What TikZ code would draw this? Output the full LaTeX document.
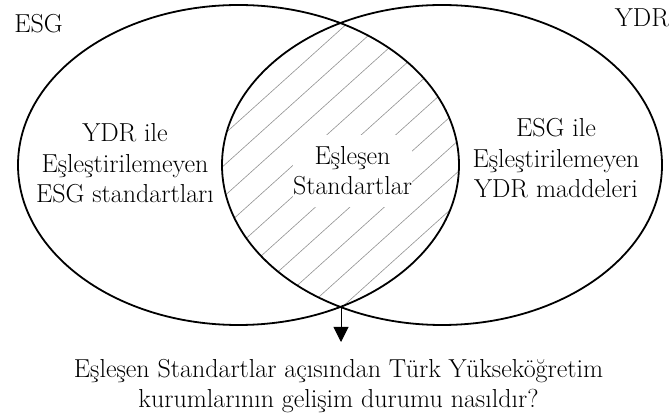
\documentclass[tikz,border=0pt]{standalone}
\usepackage{fontspec}
\usetikzlibrary{arrows.meta}
\begin{document}
\begin{tikzpicture}[x=1pt,y=-1pt,
  venn/.style={line width=1.8pt},
  hatchline/.style={gray!85, line width=0.6pt},
  lbl/.style={font=\fontsize{26}{30.5}\selectfont, inner sep=0pt, align=center, anchor=base},
  conn/.style={line width=1pt, -{Triangle[width=15pt,length=15pt]}}]
\useasboundingbox (0,0) rectangle (672,419);
\begin{scope}
  \clip (238.5,165) ellipse [x radius=220.5pt, y radius=160pt];
  \clip (442,165) ellipse [x radius=220pt, y radius=160pt];
  \foreach \k in {-11,...,6} {
    \draw[hatchline] (200,{522+31*\k-180}) -- (480,{522+31*\k-432});
  }
\end{scope}
\draw[venn] (238.5,165) ellipse [x radius=220.5pt, y radius=160pt];
\draw[venn] (442,165) ellipse [x radius=220pt, y radius=160pt];
\node[lbl, fill=white, minimum height=72pt] (match) at (352.5,195) {Eşleşen\\Standartlar};
\node[lbl] (leftonly) at (125,203) {YDR ile\\Eşleştirilemeyen\\ESG standartları};
\node[lbl] (rightonly) at (556,198) {ESG ile\\Eşleştirilemeyen\\YDR maddeleri};
\node[lbl] (esg) at (38.5,33) {ESG};
\node[lbl] (ydr) at (642,27) {YDR};
\node[lbl] (question) at (338.5,408) {Eşleşen Standartlar açısından Türk Yükseköğretim\\kurumlarının gelişim durumu nasıldır?};
\coordinate (bot) at (341,307);
\coordinate (tip) at (341,342);
\draw[conn] (bot) -- (tip);
\end{tikzpicture}
\end{document}
